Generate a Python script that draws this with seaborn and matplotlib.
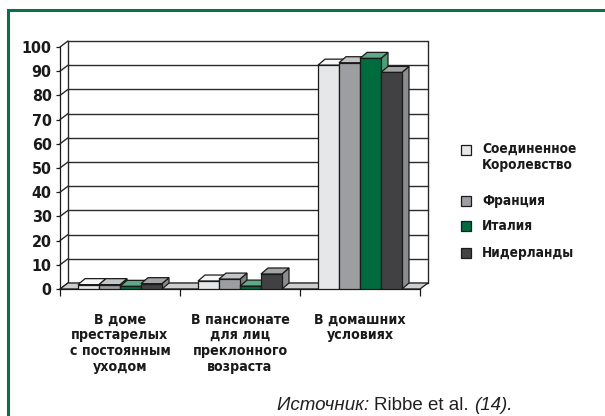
import numpy as np
import pandas as pd
import seaborn as sns
import matplotlib.pyplot as plt
from matplotlib.patches import Polygon, Rectangle
from matplotlib.lines import Line2D
from matplotlib import colors as mcolors

# data (%)
places = ["В доме\nпрестарелых\nс постоянным\nуходом",
          "В пансионате\nдля лиц\nпреклонного\nвозраста",
          "В домашних\nусловиях"]
countries = ["Соединенное Королевство", "Франция", "Италия", "Нидерланды"]
legend_labels = ["Соединенное\nКоролевство", "Франция", "Италия", "Нидерланды"]
uk = [1.8, 3.3, 92.5]
france = [1.8, 4.1, 93.5]
italy = [1.1, 1.2, 95.3]
netherlands = [2.2, 6.2, 89.5]
yticks = list(range(0, 101, 10))

front_colors = ["#e6e7e8", "#9c9ea1", "#006b3f", "#414143"]
top_colors = ["#f7f7f7", "#c4c5c7", "#5ea986", "#a3a4a6"]
side_colors = ["#cfd0d2", "#7d7f82", "#4f9c79", "#8c8d8f"]

sns.set_style("white")
plt.rcParams['font.family'] = ['DejaVu Sans']
plt.rcParams['font.stretch'] = 'condensed'
plt.rcParams['font.weight'] = 'bold'

df = pd.DataFrame({
    "place": places * 4,
    "country": np.repeat(countries, 3),
    "value": uk + france + italy + netherlands,
})

W, H = 605, 416
fig = plt.figure(figsize=(W / 100, H / 100), dpi=100)
ax = fig.add_axes([60 / W, 127 / H, 360 / W, 242 / H])

sns.barplot(data=df, x="place", y="value", hue="country", order=places,
            hue_order=countries, palette=front_colors, width=0.7, gap=0,
            saturation=1, edgecolor="#1a1a1a", linewidth=0.9, legend=False, ax=ax)

ax.set_xlim(-0.5, 2.5)
ax.set_ylim(0, 100)
ax.set_xlabel("")
ax.set_ylabel("")
ax.set_yticks(yticks)
ax.set_yticklabels([str(v) for v in yticks], fontsize=11.5, fontweight='bold',
                   fontstretch='condensed', color="#1a1a1a")
ax.tick_params(axis='y', length=3, width=0.9, pad=3, color="#1a1a1a", left=True)
ax.set_xticks([-0.5, 0.5, 1.5, 2.5])
ax.set_xticklabels([])
ax.set_xticks([0, 1, 2], minor=True)
ax.set_xticklabels(places, minor=True, fontsize=10.2, fontweight='bold',
                   fontstretch='condensed', linespacing=1.15, color="#1a1a1a")
ax.tick_params(axis='x', which='major', length=5, width=0.9, color="#1a1a1a", bottom=True)
ax.tick_params(axis='x', which='minor', length=0, pad=17)
for s in ["top", "right"]:
    ax.spines[s].set_visible(False)
ax.spines["left"].set_color("#1a1a1a")
ax.spines["bottom"].set_color("#1a1a1a")
ax.spines["left"].set_linewidth(0.9)
ax.spines["bottom"].set_linewidth(0.9)
ax.set_facecolor("none")

to_disp = ax.transData
to_data = ax.transData.inverted()


def shifted(x, y, dx, dy):
    px, py = to_disp.transform((x, y))
    return tuple(to_data.transform((px + dx, py + dy)))


WDX, WDY = 8, 6   # depth of back wall
BDX, BDY = 7, 6   # depth of bars
line_kw = dict(color="#2a2a2a", linewidth=1.0, clip_on=False)

# back wall gridlines and left wall diagonals
for v in yticks:
    a = shifted(-0.5, v, WDX, WDY)
    b = shifted(2.5, v, WDX, WDY)
    ax.add_line(Line2D([a[0], b[0]], [a[1], b[1]], zorder=1, **line_kw))
    ax.add_line(Line2D([-0.5, a[0]], [v, a[1]], zorder=1, **line_kw))
for xe in [-0.5, 2.5]:
    a = shifted(xe, 0, WDX, WDY)
    b = shifted(xe, 100, WDX, WDY)
    ax.add_line(Line2D([a[0], b[0]], [a[1], b[1]], zorder=1, **line_kw))

# floor
floor = Polygon([(-0.5, 0), (2.5, 0), shifted(2.5, 0, WDX, WDY), shifted(-0.5, 0, WDX, WDY)],
                closed=True, facecolor="#cdced0", edgecolor="#1a1a1a", linewidth=0.9,
                zorder=1.5, clip_on=False)
ax.add_patch(floor)

# 3D faces of bars
hex_front = [mcolors.to_hex(c) for c in front_colors]
bars = [p for p in ax.patches if isinstance(p, Rectangle) and p is not floor]
for p in bars:
    k = hex_front.index(mcolors.to_hex(p.get_facecolor()))
    x0, w, h = p.get_x(), p.get_width(), p.get_height()
    z = 3 + 0.1 * k
    p.set_zorder(z + 0.05)
    top = Polygon([(x0, h), (x0 + w, h), shifted(x0 + w, h, BDX, BDY), shifted(x0, h, BDX, BDY)],
                  closed=True, facecolor=top_colors[k], edgecolor="#1a1a1a",
                  linewidth=0.9, zorder=z, clip_on=False)
    side = Polygon([(x0 + w, 0), (x0 + w, h), shifted(x0 + w, h, BDX, BDY), shifted(x0 + w, 0, BDX, BDY)],
                   closed=True, facecolor=side_colors[k], edgecolor="#1a1a1a",
                   linewidth=0.9, zorder=z, clip_on=False)
    ax.add_patch(side)
    ax.add_patch(top)

# legend
leg_y = [149.5, 200.5, 226, 252.5]
for lab, col, yc in zip(legend_labels, front_colors, leg_y):
    fig.patches.append(Rectangle((461 / W, 1 - (yc + 5) / H), 10 / W, 10 / H,
                                 transform=fig.transFigure, facecolor=col,
                                 edgecolor="#1a1a1a", linewidth=0.9))
    if "\n" in lab:
        fig.text(482 / W, 1 - (yc - 7.5) / H, lab, fontsize=9.8, fontweight='bold',
                 fontstretch='condensed', va='top', ha='left', linespacing=1.2,
                 color="#1a1a1a")
    else:
        fig.text(482 / W, 1 - yc / H, lab, fontsize=9.8, fontweight='bold',
                 fontstretch='condensed', va='center', ha='left', color="#1a1a1a")

# source line
src_font = ['Liberation Sans', 'DejaVu Sans']
renderer = fig.canvas.get_renderer()
xpos = 277
for piece, style in [("Источник: ", "italic"), ("Ribbe et al. ", "normal"), ("(14).", "italic")]:
    t = fig.text(xpos / W, 1 - 409.5 / H, piece, fontsize=13.5, fontweight='normal',
                 fontstretch='normal', fontstyle=style, family=src_font,
                 va='baseline', ha='left', color="#231f20")
    xpos += t.get_window_extent(renderer).width

# green frame
fig.add_artist(Line2D([8.2 / W, 8.2 / W, 1], [0, 1 - 9.5 / H, 1 - 9.5 / H],
                      transform=fig.transFigure, color="#0f6e48", linewidth=2.2,
                      solid_joinstyle='miter'))

fig.savefig("out.png", dpi=100)
